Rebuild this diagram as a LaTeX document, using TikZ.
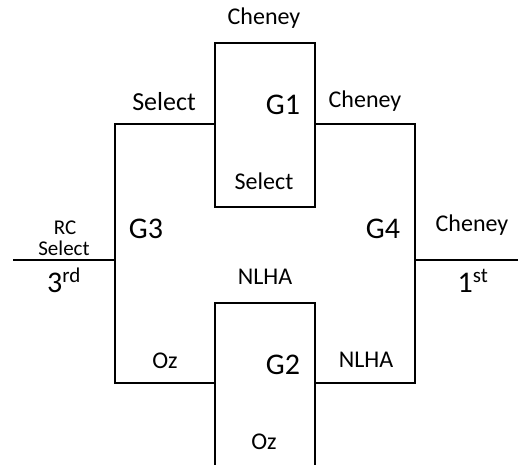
\documentclass[tikz,border=0pt]{standalone}
\usepackage{fontspec}
\setmainfont{Carlito}
\usepackage{tikz}
\usetikzlibrary{positioning}
\tikzset{lbl/.style={anchor=base,inner sep=0pt,font=\fontsize{24}{28}\selectfont},
  big/.style={anchor=base,inner sep=0pt,font=\fontsize{30}{34}\selectfont},
  tiny/.style={anchor=base,inner sep=0pt,font=\fontsize{21}{24}\selectfont},
  bline/.style={line width=2pt,line cap=rect}}

\begin{document}
\begin{tikzpicture}[x=1pt,y=-1pt]
    \useasboundingbox (0,0) rectangle (530,465);
    \coordinate (a1) at (215,43);
    \coordinate (a2) at (315,43);
    \coordinate (a3) at (315,207);
    \coordinate (a4) at (215,207);
    \coordinate (b1) at (215,124);
    \coordinate (b2) at (115,124);
    \coordinate (b3) at (115,383);
    \coordinate (b4) at (215,383);
    \coordinate (c1) at (315,124);
    \coordinate (c2) at (415,124);
    \coordinate (c3) at (415,383);
    \coordinate (c4) at (315,383);
    \coordinate (d1) at (215,465);
    \coordinate (d2) at (215,303);
    \coordinate (d3) at (315,303);
    \coordinate (d4) at (315,465);
    \coordinate (e1) at (14,260);
    \coordinate (e2) at (115,260);
    \coordinate (f1) at (415,260);
    \coordinate (f2) at (517,260);

    \node[lbl] (ch0) at (264,25) {Cheney};
    \node[lbl,font=\fontsize{26}{30}\selectfont] (se1) at (164,111) {Select};
    \node[big] (g1) at (283,115) {G1};
    \node[lbl] (ch1) at (365,108) {Cheney};
    \node[lbl] (se0) at (264,190) {Select};
    \node[tiny] (rc) at (65,234) {RC};
    \node[tiny] (se2) at (64,255) {Select};
    \node[big] (third) at (64,292) {3\textsuperscript{rd}};
    \node[big] (g3) at (146,238) {G3};
    \node[big] (g4) at (383,238) {G4};
    \node[lbl] (ch2) at (472,232) {Cheney};
    \node[big] (first) at (473,292) {1\textsuperscript{st}};
    \node[lbl] (nl0) at (265,284) {NLHA};
    \node[lbl] (oz1) at (165,368) {Oz};
    \node[big] (g2) at (283,374) {G2};
    \node[lbl] (nl1) at (366,367) {NLHA};
    \node[lbl] (oz0) at (264,449) {Oz};

    \draw [bline] (a1) -- (a2) -- (a3) -- (a4) -- cycle;
    \draw [bline] (b1) -- (b2) -- (b3) -- (b4);
    \draw [bline] (c1) -- (c2) -- (c3) -- (c4);
    \draw [bline] (d1) -- (d2) -- (d3) -- (d4);
    \draw [bline] (e1) -- (e2);
    \draw [bline] (f1) -- (f2);
\end{tikzpicture}
\end{document}
